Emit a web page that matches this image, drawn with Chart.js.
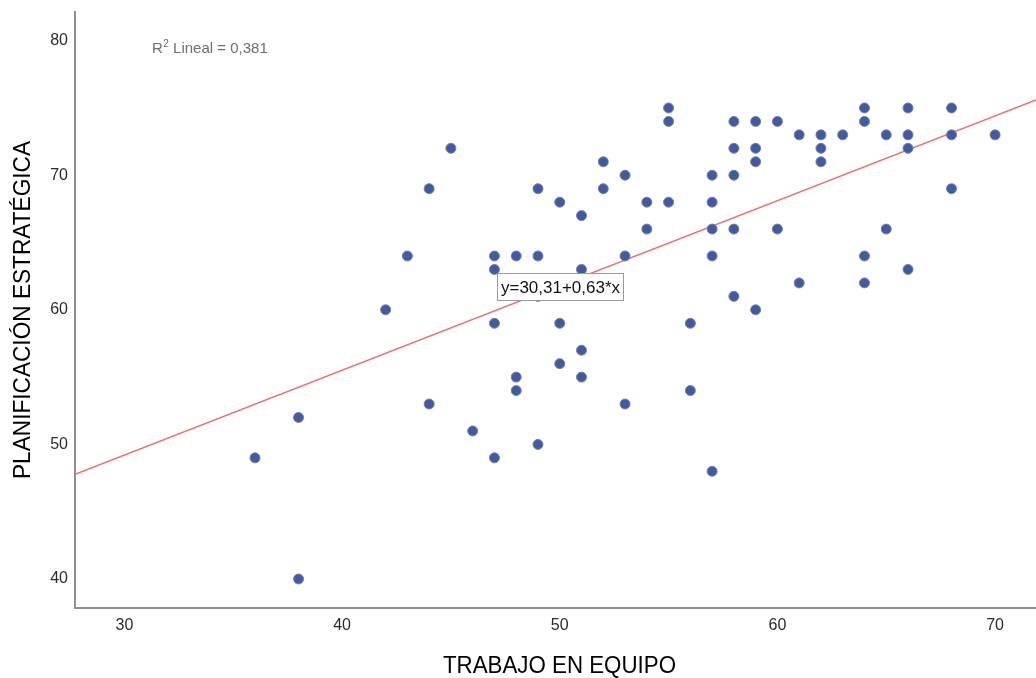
<!DOCTYPE html>
<html>
<head>
<meta charset="utf-8">
<script src="https://cdn.jsdelivr.net/npm/chart.js@4/dist/chart.umd.min.js"></script>
<style>
  html, body { margin: 0; padding: 0; background: #ffffff; }
  #wrap { width: 1036px; height: 678px; position: relative; }
</style>
</head>
<body>
<div id="wrap"><canvas id="chart" width="1036" height="678"></canvas></div>
<script>
// Scatter of TRABAJO EN EQUIPO (x) vs PLANIFICACIÓN ESTRATÉGICA (y) with linear fit
const trabajoEquipo = [
  36, 38, 38, 42, 43, 44, 44, 45, 46, 47, 47, 47, 47, 48, 48, 48,
  49, 49, 49, 49, 50, 50, 50, 51, 51, 51, 51, 52, 52, 53, 53, 53,
  54, 54, 55, 55, 55, 56, 56, 57, 57, 57, 57, 57, 58, 58, 58, 58,
  58, 59, 59, 59, 59, 60, 60, 61, 61, 62, 62, 62, 63, 64, 64, 64,
  64, 65, 65, 66, 66, 66, 66, 68, 68, 68, 70
];
const planificacion = [
  49, 52, 40, 60, 64, 69, 53, 72, 51, 64, 63, 59, 49, 64, 55, 54,
  69, 64, 61, 50, 68, 59, 56, 67, 63, 57, 55, 71, 69, 70, 64, 53,
  68, 66, 75, 74, 68, 59, 54, 70, 68, 66, 64, 48, 74, 72, 70, 66,
  61, 74, 72, 71, 60, 74, 66, 73, 62, 73, 72, 71, 73, 75, 74, 64,
  62, 73, 66, 75, 73, 72, 63, 75, 73, 69, 73
];
const xTickValues = [30, 40, 50, 60, 70];
const yTickValues = [40, 50, 60, 70, 80];

const xTitle = 'TRABAJO EN EQUIPO';
const yTitle = 'PLANIFICACIÓN ESTRATÉGICA';

// Fit line: y = intercept + slope * x
const intercept = 30.31;
const slope = 0.63;
const rSquared = 0.381;

// Axis ranges
const X_MIN = 27.73, X_MAX = 71.88;
const Y_MIN = 37.845, Y_MAX = 82.13;

// Where the equation label sits (data units: left edge, top edge)
const eqAnchor = { x: 47.12, y: 62.75 };

const fmt = v => String(v).replace('.', ',');

const scatterPoints = trabajoEquipo.map((x, i) => ({ x: x, y: planificacion[i] }));
const fitPoints = [X_MIN, X_MAX].map(x => ({ x: x, y: intercept + slope * x }));

const SANS = "'Liberation Sans', Arial, sans-serif";

// Draws text squeezed/stretched along its own direction to a given length
function drawFittedText(ctx, text, font, cx, baseY, length, rotation) {
  ctx.save();
  ctx.font = font;
  const w = ctx.measureText(text).width;
  ctx.translate(cx, baseY);
  ctx.rotate(rotation);
  ctx.scale(length / w, 1);
  ctx.textAlign = 'center';
  ctx.textBaseline = 'alphabetic';
  ctx.fillText(text, 0, 0);
  ctx.restore();
}

const annotations = {
  id: 'annotations',
  afterDatasetsDraw(chart) {
    const ctx = chart.ctx;
    const xs = chart.scales.x, ys = chart.scales.y;
    const area = chart.chartArea;
    ctx.save();

    // R² note at top left
    ctx.fillStyle = '#6e6e6e';
    ctx.textBaseline = 'alphabetic';
    ctx.textAlign = 'left';
    let px = 152, py = 53;
    ctx.font = '15px ' + SANS;
    ctx.fillText('R', px, py);
    px += ctx.measureText('R').width;
    ctx.font = '10px ' + SANS;
    ctx.fillText('2', px + 0.5, py - 6);
    px += ctx.measureText('2').width + 0.5;
    ctx.font = '15px ' + SANS;
    ctx.fillText(' Lineal = ' + fmt(rSquared), px, py);

    // Equation box
    const label = 'y=' + fmt(intercept) + '+' + fmt(slope) + '*x';
    const bx = Math.round(xs.getPixelForValue(eqAnchor.x)) + 0.5;
    const by = Math.round(ys.getPixelForValue(eqAnchor.y)) + 0.5;
    const bw = 126, bh = 27;
    ctx.fillStyle = '#ffffff';
    ctx.fillRect(bx, by, bw, bh);
    ctx.strokeStyle = '#9a9a9a';
    ctx.lineWidth = 1;
    ctx.strokeRect(bx, by, bw, bh);
    ctx.fillStyle = '#111111';
    ctx.font = '17px ' + SANS;
    ctx.textAlign = 'center';
    ctx.textBaseline = 'middle';
    ctx.fillText(label, bx + bw / 2, by + bh / 2 + 1);

    // Axis titles (narrow lettering)
    ctx.fillStyle = '#000000';
    drawFittedText(ctx, xTitle, '24px ' + SANS, 559.5, 673, 233, 0);
    const yMid = (area.top + area.bottom) / 2;
    drawFittedText(ctx, yTitle, '23px ' + SANS, 30, yMid, 338, -Math.PI / 2);

    ctx.restore();
  }
};

new Chart(document.getElementById('chart'), {
  type: 'scatter',
  data: {
    datasets: [
      {
        type: 'line',
        data: fitPoints,
        borderColor: '#f07070',
        borderWidth: 1.5,
        pointRadius: 0,
        fill: false,
        order: 2
      },
      {
        data: scatterPoints,
        backgroundColor: '#3d5ba9',
        borderColor: '#7b8192',
        borderWidth: 1,
        pointRadius: 5,
        pointHoverRadius: 5,
        order: 1
      }
    ]
  },
  options: {
    responsive: false,
    animation: false,
    events: [],
    layout: { autoPadding: false, padding: { top: 12, right: 0, bottom: 0, left: 0 } },
    plugins: { legend: { display: false }, tooltip: { enabled: false } },
    scales: {
      x: {
        type: 'linear',
        min: X_MIN,
        max: X_MAX,
        grid: { display: false, drawTicks: false, tickLength: 0 },
        border: { display: true, color: '#8f8f8f', width: 2 },
        afterBuildTicks: ax => { ax.ticks = xTickValues.map(v => ({ value: v })); },
        afterFit: ax => { ax.height = 70; ax.paddingLeft = 0; ax.paddingRight = 0; },
        ticks: {
          font: { family: SANS, size: 16 },
          color: '#2b2b2b',
          padding: 8,
          maxRotation: 0,
          autoSkip: false
        },
        title: { display: false }
      },
      y: {
        type: 'linear',
        min: Y_MIN,
        max: Y_MAX,
        grid: { display: false, drawTicks: false, tickLength: 0 },
        border: { display: true, color: '#8f8f8f', width: 2 },
        afterBuildTicks: ax => { ax.ticks = yTickValues.map(v => ({ value: v })); },
        afterFit: ax => { ax.width = 75; ax.paddingTop = 0; ax.paddingBottom = 0; },
        ticks: {
          font: { family: SANS, size: 16 },
          color: '#2b2b2b',
          padding: 7,
          autoSkip: false
        },
        title: { display: false }
      }
    }
  },
  plugins: [annotations]
});
</script>
</body>
</html>
